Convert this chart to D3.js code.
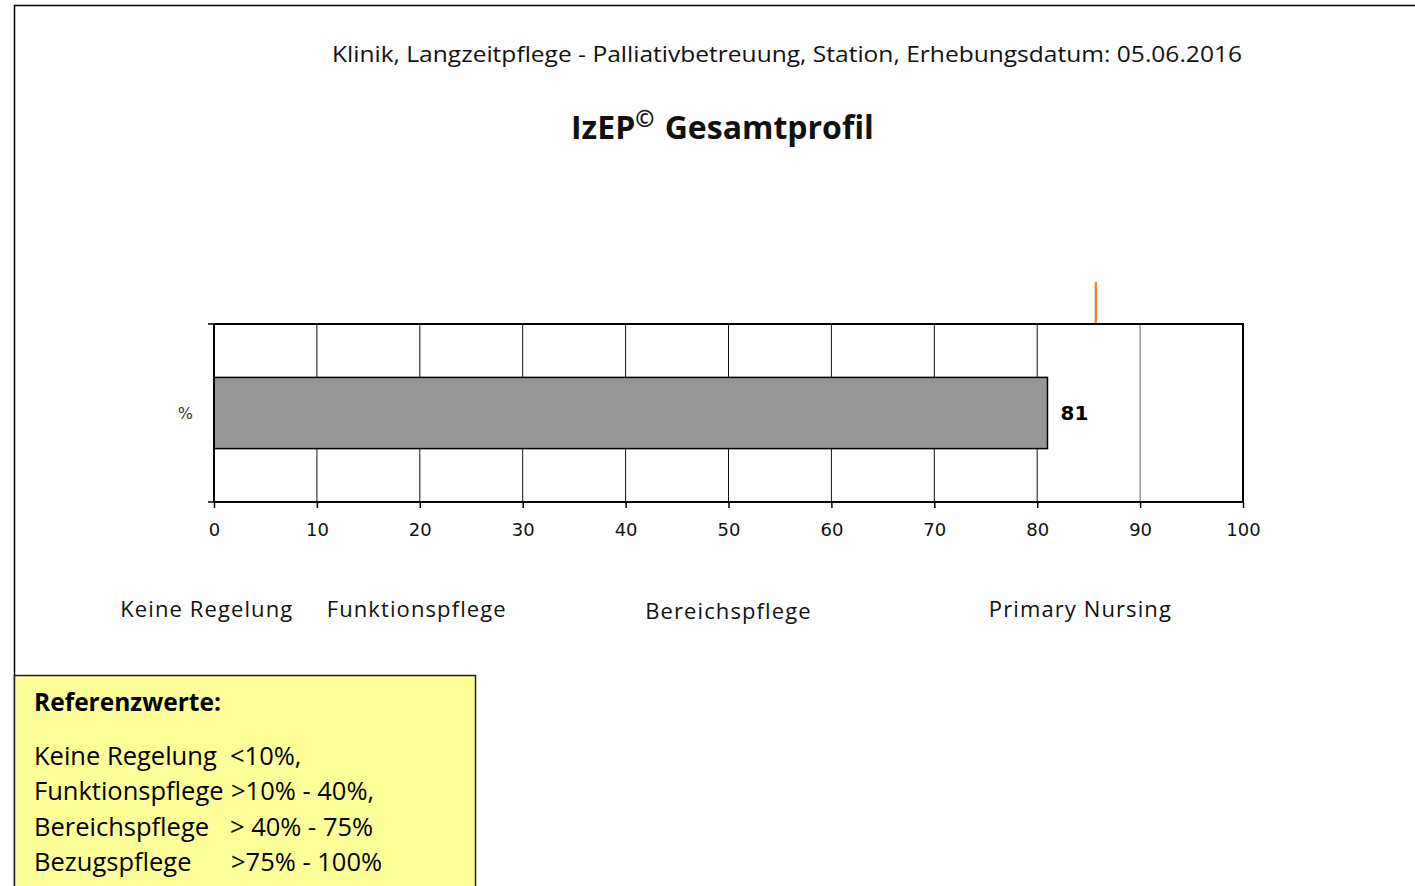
<!DOCTYPE html>
<html>
<head>
<meta charset="utf-8">
<script src="https://cdn.jsdelivr.net/npm/d3@7"></script>
<style>
  html, body { margin: 0; padding: 0; background: #fff; }
  svg { display: block; }
</style>
</head>
<body>
<div id="chart"></div>
<script>
// IzEP Gesamtprofil - single horizontal bar, 0..100 %

const subtitle = "Klinik, Langzeitpflege - Palliativbetreuung, Station, Erhebungsdatum: 05.06.2016";
const titleMain = "IzEP";
const titleSup = "©";
const titleRest = " Gesamtprofil";

const rowLabels = ["%"];
const values = [81];
const markerValues = [85.7];
const xTicks = [0, 10, 20, 30, 40, 50, 60, 70, 80, 90, 100];

// care model labels under the axis, anchored at a value on the 0..100 scale
const careLabels = ["Keine Regelung", "Funktionspflege", "Bereichspflege", "Primary Nursing"];
const careAnchors = [-0.7, 19.7, 50, 84.2];

const refTitle = "Referenzwerte:";
const refNames = ["Keine Regelung", "Funktionspflege", "Bereichspflege", "Bezugspflege"];
const refRanges = ["<10%,", ">10% - 40%,", "> 40% - 75%", ">75% - 100%"];

const W = 1415, H = 886;
const font = "'Open Sans', 'Noto Sans', sans-serif";

const svg = d3.select("#chart").append("svg")
    .attr("width", W)
    .attr("height", H);

// outer frame (top + left edge)
svg.append("path")
    .attr("d", "M14.5," + H + " V5.5 H" + W)
    .attr("fill", "none")
    .attr("stroke", "#000")
    .attr("stroke-width", 1.5);

// header texts
svg.append("text")
    .attr("x", 332).attr("y", 62)
    .attr("font-family", font).attr("font-size", 21)
    .attr("textLength", 910).attr("lengthAdjust", "spacingAndGlyphs")
    .attr("fill", "#111")
    .text(subtitle);

const t = svg.append("text")
    .attr("x", 571).attr("y", 139)
    .attr("font-family", font).attr("font-size", 32).attr("font-weight", "bold")
    .attr("fill", "#111");
t.append("tspan").text(titleMain);
t.append("tspan").attr("dy", -12).attr("font-size", 23).text(titleSup);
t.append("tspan").attr("dy", 12).attr("dx", 2).text(titleRest);

// plot area
const plotLeft = 214, plotRight = 1243, plotTop = 324, plotBottom = 502;

const x = d3.scaleLinear().domain([0, 100]).range([plotLeft, plotRight]);
const y = d3.scaleBand().domain(rowLabels).range([plotTop, plotBottom]).paddingInner(0).paddingOuter(0.75);

// vertical gridlines
svg.append("g")
    .selectAll("line")
    .data(xTicks.filter(d => d > 0 && d < 100))
    .enter()
    .append("line")
    .attr("x1", d => x(d)).attr("x2", d => x(d))
    .attr("y1", plotTop).attr("y2", plotBottom)
    .attr("stroke", d => d == 90 ? "#666" : "#111")
    .attr("stroke-width", 1);

// marker line above the plot
svg.append("g")
    .selectAll("line")
    .data(markerValues)
    .enter()
    .append("line")
    .attr("x1", d => x(d)).attr("x2", d => x(d))
    .attr("y1", 282).attr("y2", plotTop)
    .attr("stroke", "#ED7D31")
    .attr("stroke-width", 2.2);

// bar
svg.append("g")
    .selectAll("rect")
    .data(values)
    .enter()
    .append("rect")
    .attr("x", x(0))
    .attr("y", (d, i) => y(rowLabels[i]))
    .attr("width", d => x(d) - x(0))
    .attr("height", y.bandwidth())
    .attr("fill", "#969696")
    .attr("stroke", "#000")
    .attr("stroke-width", 1.5);

// value label
svg.append("g")
    .selectAll("text")
    .data(values)
    .enter()
    .append("text")
    .attr("x", d => x(d) + 13)
    .attr("y", (d, i) => y(rowLabels[i]) + y.bandwidth() / 2)
    .attr("dy", "0.35em")
    .attr("font-family", "'DejaVu Sans', sans-serif")
    .attr("font-size", 20).attr("font-weight", "bold")
    .attr("fill", "#000")
    .text(d => d);

// plot border
svg.append("rect")
    .attr("x", plotLeft).attr("y", plotTop)
    .attr("width", plotRight - plotLeft).attr("height", plotBottom - plotTop)
    .attr("fill", "none")
    .attr("stroke", "#000")
    .attr("stroke-width", 2);

// bottom axis
const xAxis = svg.append("g")
    .attr("transform", "translate(0," + plotBottom + ")")
    .call(d3.axisBottom(x).tickValues(xTicks).tickSize(6).tickPadding(15).tickFormat(d3.format("d")));
xAxis.select(".domain").remove();
xAxis.selectAll("line").attr("stroke", "#000").attr("stroke-width", 1.5);
xAxis.selectAll("text")
    .attr("font-family", "'DejaVu Sans', sans-serif")
    .attr("font-size", 18)
    .attr("fill", "#111");

// left axis: only the end ticks, label "%"
svg.append("g")
    .selectAll("line")
    .data([plotTop, plotBottom])
    .enter()
    .append("line")
    .attr("x1", plotLeft - 6).attr("x2", plotLeft)
    .attr("y1", d => d).attr("y2", d => d)
    .attr("stroke", "#000").attr("stroke-width", 1.5);

svg.append("g")
    .selectAll("text")
    .data(rowLabels)
    .enter()
    .append("text")
    .attr("x", 193)
    .attr("y", d => y(d) + y.bandwidth() / 2)
    .attr("dy", "0.35em")
    .attr("text-anchor", "end")
    .attr("font-family", "'DejaVu Sans', sans-serif")
    .attr("font-size", 16)
    .attr("fill", "#333")
    .text(d => d);

// care model labels
svg.append("g")
    .selectAll("text")
    .data(careLabels)
    .enter()
    .append("text")
    .attr("x", (d, i) => x(careAnchors[i]))
    .attr("y", (d, i) => i == 2 ? 619 : 617)
    .attr("text-anchor", "middle")
    .attr("font-family", font)
    .attr("font-size", 22)
    .attr("letter-spacing", 1.1)
    .attr("fill", "#111")
    .text(d => d);

// reference box
svg.append("rect")
    .attr("x", 14.5).attr("y", 675.5)
    .attr("width", 461).attr("height", 220)
    .attr("fill", "#FFFF99")
    .attr("stroke", "#222")
    .attr("stroke-width", 1.5);

svg.append("text")
    .attr("x", 34).attr("y", 711)
    .attr("font-family", font).attr("font-size", 24.5).attr("font-weight", "bold")
    .attr("fill", "#000")
    .text(refTitle);

const refRows = svg.append("g")
    .selectAll("g")
    .data(refNames)
    .enter()
    .append("g");

refRows.append("text")
    .attr("x", 34)
    .attr("y", (d, i) => 765 + i * 35.3)
    .attr("font-family", font).attr("font-size", 25.5)
    .attr("fill", "#000")
    .text(d => d);

refRows.append("text")
    .attr("x", (d, i) => [230, 231, 230, 231][i])
    .attr("y", (d, i) => 765 + i * 35.3)
    .attr("font-family", font).attr("font-size", 25.5)
    .attr("fill", "#000")
    .text((d, i) => refRanges[i]);
</script>
</body>
</html>
